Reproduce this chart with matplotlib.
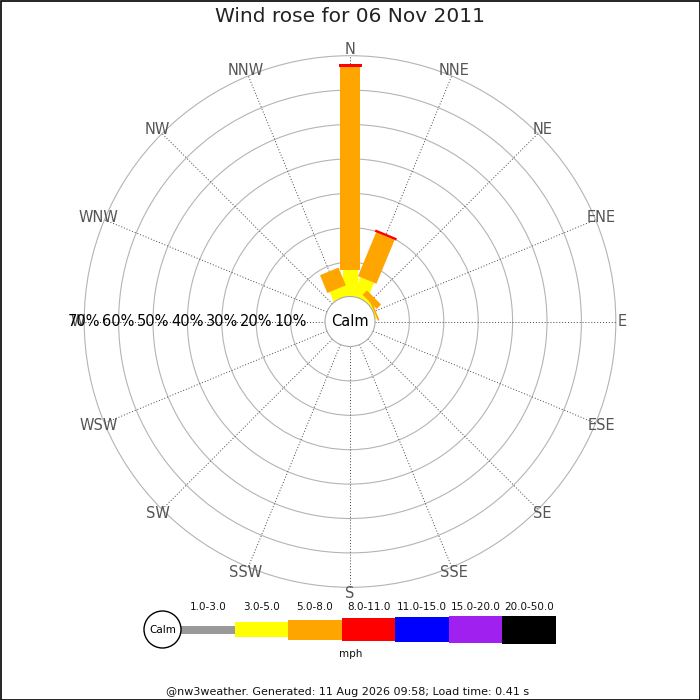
import numpy as np
import matplotlib.pyplot as plt
from matplotlib.patches import Polygon, Circle, Rectangle

directions = ['N', 'NNE', 'NE', 'ENE', 'E', 'ESE', 'SE', 'SSE',
              'S', 'SSW', 'SW', 'WSW', 'W', 'WNW', 'NW', 'NNW']
bands = ['1.0-3.0', '3.0-5.0', '5.0-8.0', '8.0-11.0', '11.0-15.0', '15.0-20.0', '20.0-50.0']
band_colours = ['#999999', '#ffff00', '#ffa500', '#ff0000', '#0000ff', '#a020f0', '#000000']

# percent of time per direction, per speed band (only non-zero directions)
freq = {
    'N':   [0, 7.8, 58.8, 0.9, 0, 0, 0],
    'NNE': [0, 5.8, 13.8, 0.7, 0, 0, 0],
    'NE':  [0, 0.8, 1.8, 0, 0, 0, 0],
    'ENE': [0, 0.3, 0.5, 0, 0, 0, 0],
    'NNW': [0, 2.9, 5.6, 0, 0, 0, 0],
}
ring_pcts = [10, 20, 30, 40, 50, 60, 70]

title = 'Wind rose for 06 Nov 2011'
footer = '@nw3weather. Generated: 11 Aug 2026 09:58; Load time: 0.41 s'

# geometry (pixels)
cx, cy = 350, 321.5
calm_r = 25
px_per_pct = 3.44
bar_widths = [8, 15, 20, 23, 25, 27, 28]


def rad(p):
    return calm_r + px_per_pct * p


fig = plt.figure(figsize=(7, 7), dpi=100)
ax = fig.add_axes([0, 0, 1, 1])
ax.set_xlim(0, 700)
ax.set_ylim(700, 0)
ax.set_aspect('equal')
ax.axis('off')

# rings
for p in ring_pcts:
    ax.add_patch(Circle((cx, cy), rad(p), fill=False, ec='#b4b4b4', lw=0.8, zorder=1))

# spokes + compass labels
for i, d in enumerate(directions):
    th = np.radians(i * 22.5)
    ux, uy = np.sin(th), -np.cos(th)
    ax.plot([cx + ux * calm_r, cx + ux * rad(70)], [cy + uy * calm_r, cy + uy * rad(70)],
            color='#444444', lw=0.7, ls=(0, (1, 2)), zorder=1)
    ax.text(cx + ux * 272, cy + uy * 272, d, ha='center', va='center',
            fontsize=10.5, color='#555555', zorder=5)

# bars, drawn band by band
for b in range(len(bands)):
    for d, vals in freq.items():
        if vals[b] <= 0:
            continue
        th = np.radians(directions.index(d) * 22.5)
        u = np.array([np.sin(th), -np.cos(th)])
        v = np.array([np.cos(th), np.sin(th)])
        start = sum(vals[:b])
        r0 = rad(start) if start > 0 else calm_r - 10
        r1 = rad(start + vals[b])
        w = bar_widths[b] / 2
        c = np.array([cx, cy])
        pts = [c + u * r0 - v * w, c + u * r1 - v * w, c + u * r1 + v * w, c + u * r0 + v * w]
        ax.add_patch(Polygon(pts, closed=True, fc=band_colours[b], ec='none', zorder=2 + b * 0.1))

# calm circle
ax.add_patch(Circle((cx, cy), calm_r, fc='white', ec='#aaaaaa', lw=0.8, zorder=4))
ax.text(cx, cy, 'Calm', ha='center', va='center', fontsize=10.5, color='black', zorder=6)

# percent labels on the west side
for p in ring_pcts:
    ax.text(cx - rad(p), cy + 0.5, '%d%%' % p, ha='center', va='center',
            fontsize=10.5, color='black', zorder=6)

ax.text(350, 17, title, ha='center', va='center', fontsize=14.5, color='#222222')

# legend
ly = 629.5
ax.add_patch(Circle((162.5, ly), 18.5, fc='white', ec='black', lw=1, zorder=3))
ax.text(162.5, ly + 0.5, 'Calm', ha='center', va='center', fontsize=7.5)
seg = (556 - 181) / len(bands)
for b, lab in enumerate(bands):
    x0 = 181 + b * seg
    h = bar_widths[b]
    ax.add_patch(Rectangle((x0, ly - h / 2), seg, h, fc=band_colours[b], ec='none', zorder=2))
    ax.text(x0 + seg / 2, 607, lab, ha='center', va='center', fontsize=7.5, color='#111111')
ax.text(351, 654, 'mph', ha='center', va='center', fontsize=7.5, color='#111111')

ax.text(348, 692, footer, ha='center', va='center', fontsize=8, color='#111111')

ax.add_patch(Rectangle((0.5, 0.5), 699, 699, fill=False, ec='black', lw=1.2, zorder=10))

fig.savefig('out.png', dpi=100)
